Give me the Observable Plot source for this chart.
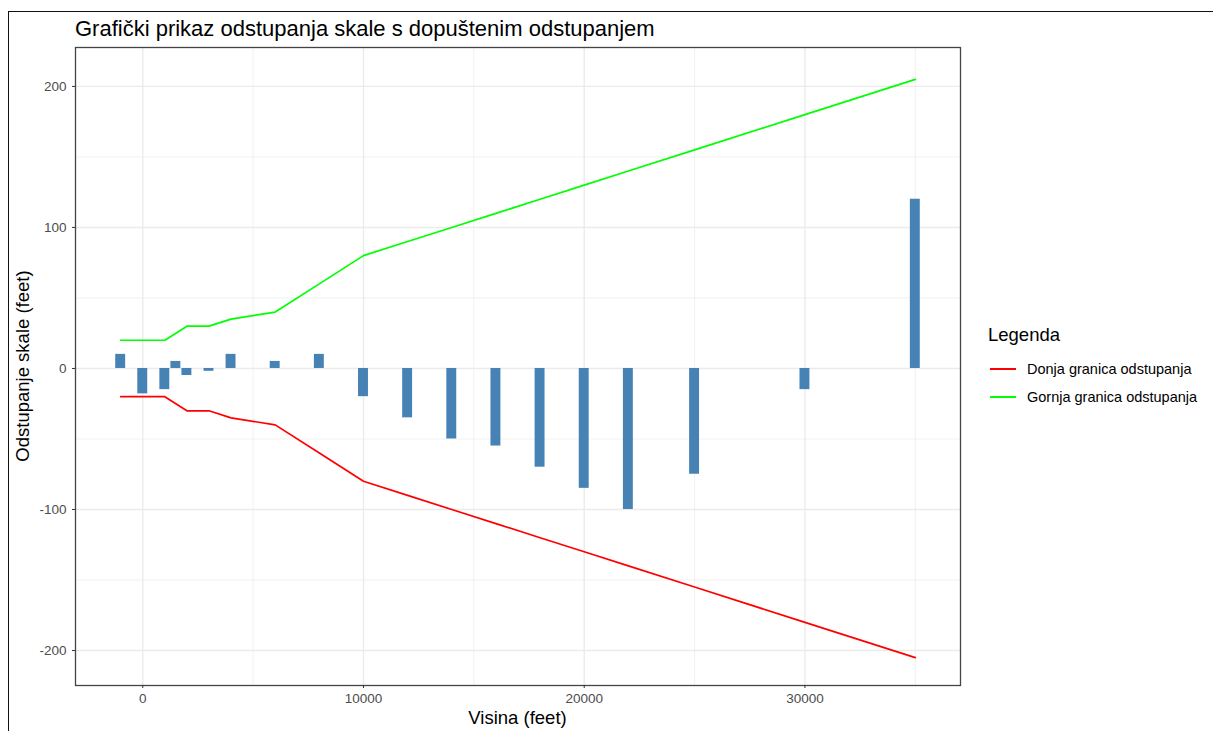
<!DOCTYPE html>
<html><head><meta charset="utf-8">
<script src="https://cdn.jsdelivr.net/npm/d3@7"></script>
<script src="https://cdn.jsdelivr.net/npm/@observablehq/plot@0.6"></script>
<style>
body{margin:0;background:#fff;font-family:"Liberation Sans",Arial,sans-serif;}
#wrap{position:relative;width:1213px;height:731px;overflow:hidden;background:#fff;}
#frame{position:absolute;left:8px;top:11px;width:1400px;height:900px;border-left:1.5px solid #111;border-top:1.5px solid #111;}
#chart{position:absolute;left:0;top:0;}
#title{position:absolute;left:75px;top:16px;font-size:22px;color:#000;white-space:nowrap;}
#xtitle{position:absolute;left:75px;width:885px;top:707px;text-align:center;font-size:18.5px;color:#000;}
#ytitle{position:absolute;left:23px;top:366px;transform:translate(-50%,-50%) rotate(-90deg);font-size:18.5px;color:#000;white-space:nowrap;}
#legend{position:absolute;left:988px;top:324px;}
#legend .lt{font-size:18.5px;color:#000;margin-bottom:9px;}
#legend .it{display:flex;align-items:center;height:28px;font-size:14.5px;color:#000;}
#legend .key{width:26px;height:0;border-top:2px solid;margin-right:11px;margin-left:2px;}
</style>
</head><body>
<div id="wrap">
<div id="frame"></div>
<div id="chart"></div>
<div id="title">Grafički prikaz odstupanja skale s dopuštenim odstupanjem</div>
<div id="ytitle">Odstupanje skale (feet)</div>
<div id="xtitle">Visina (feet)</div>
<div id="legend"></div>
</div>
<script>
// Bars: measured scale error at each test altitude
const altitudes = [-1000,0,1000,1500,2000,3000,4000,6000,8000,10000,12000,14000,16000,18000,20000,22000,25000,30000,35000];
const scaleErrors = [10,-18,-15,5,-5,-2,10,5,10,-20,-35,-50,-55,-70,-85,-100,-75,-15,120];
// Tolerance limits
const limitAltitudes = [-1000,0,1000,2000,3000,4000,6000,8000,10000,12000,14000,16000,18000,20000,22000,25000,30000,35000];
const upperLimit = [20,20,20,30,30,35,40,60,80,90,100,110,120,130,140,155,180,205];
const lowerLimit = [-20,-20,-20,-30,-30,-35,-40,-60,-80,-90,-100,-110,-120,-130,-140,-155,-180,-205];
// Ticks
const xTicks = [0,10000,20000,30000];
const xMinor = [5000,15000,25000,35000];
const yTicks = [-200,-100,0,100,200];
const yMinor = [-150,-50,50,150];
const seriesNames = ["Donja granica odstupanja","Gornja granica odstupanja"];
const seriesColors = ["#ff0000","#00ff00"];

const bars = altitudes.map((a,i)=>({alt:a, err:scaleErrors[i]}));
const lower = limitAltitudes.map((a,i)=>({alt:a, v:lowerLimit[i]}));
const upper = limitAltitudes.map((a,i)=>({alt:a, v:upperLimit[i]}));
const barHalf = 225;

const plot = Plot.plot({
  width:1213, height:731,
  marginLeft:75, marginRight:253, marginTop:47, marginBottom:46,
  x:{domain:[-3047,37047]},
  y:{domain:[-224.8,227.6]},
  style:{fontFamily:'"Liberation Sans",Arial,sans-serif', background:"transparent"},
  marks:[
    Plot.ruleY(yMinor,{stroke:"#ebebeb",strokeWidth:0.7}),
    Plot.ruleX(xMinor,{stroke:"#ebebeb",strokeWidth:0.7}),
    Plot.ruleY(yTicks,{stroke:"#ebebeb",strokeWidth:1.4}),
    Plot.ruleX(xTicks,{stroke:"#ebebeb",strokeWidth:1.4}),
    Plot.rectY(bars,{x1:d=>d.alt-barHalf,x2:d=>d.alt+barHalf,y:"err",fill:"#4682b4"}),
    Plot.line(lower,{x:"alt",y:"v",stroke:seriesColors[0],strokeWidth:1.7}),
    Plot.line(upper,{x:"alt",y:"v",stroke:seriesColors[1],strokeWidth:1.7}),
    Plot.frame({stroke:"#444",strokeWidth:1.3}),
    Plot.axisX({ticks:xTicks,tickFormat:d=>String(d),tickSize:3,tickPadding:5,fontSize:13.5,color:"#4d4d4d",stroke:"#333",label:null}),
    Plot.axisY({ticks:yTicks,tickFormat:d=>String(d),tickSize:3,tickPadding:6,fontSize:13.5,color:"#4d4d4d",stroke:"#333",label:null})
  ]
});
plot.querySelectorAll('g[aria-label="x-axis tick label"] text, g[aria-label="y-axis tick label"] text').forEach(t=>t.setAttribute("fill","#4d4d4d"));
document.getElementById("chart").appendChild(plot);

const lg = document.getElementById("legend");
const t = document.createElement("div"); t.className="lt"; t.textContent="Legenda"; lg.appendChild(t);
seriesNames.forEach((n,i)=>{
  const it=document.createElement("div"); it.className="it";
  const k=document.createElement("div"); k.className="key"; k.style.borderTopColor=seriesColors[i];
  const s=document.createElement("span"); s.textContent=n;
  it.appendChild(k); it.appendChild(s); lg.appendChild(it);
});
</script>
</body></html>
